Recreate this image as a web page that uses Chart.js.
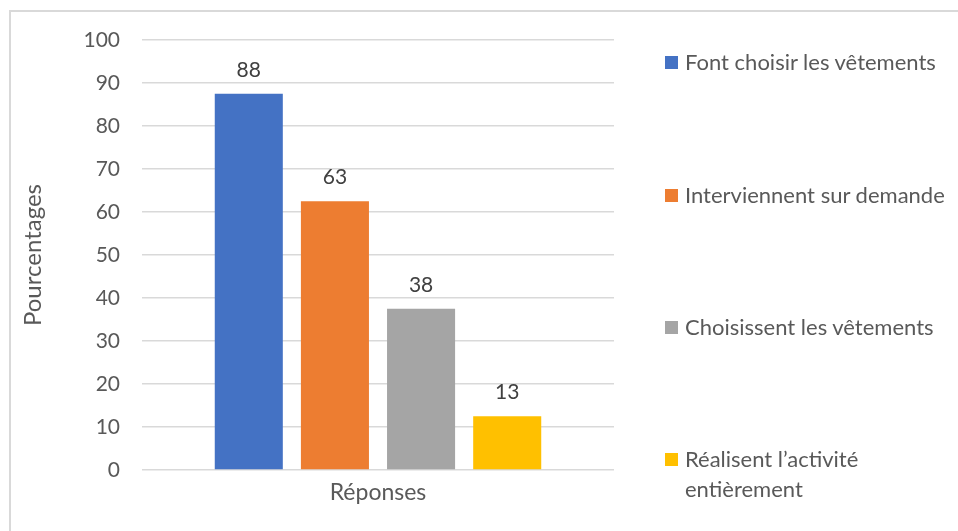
<!DOCTYPE html>
<html>
<head>
<meta charset="utf-8">
<script src="https://cdn.jsdelivr.net/npm/chart.js@4"></script>
<style>
  body { margin: 0; background: #fff; }
  #wrap { position: relative; width: 958px; height: 531px; overflow: hidden; font-family: Lato, "Open Sans", sans-serif; }
  #frame { position: absolute; left: 9px; top: 10px; right: -5px; bottom: -5px; border-left: 2px solid #d9d9d9; border-top: 2px solid #d9d9d9; }
  #chart { position: absolute; left: 0; top: 0; }
  #legend { position: absolute; left: 665px; top: 0; color: #595959; font-size: 22px; line-height: 30px; }
  .item { position: absolute; left: 0; white-space: nowrap; }
  .item span.box { position: absolute; left: 0; top: 9px; width: 13px; height: 13px; }
  .item span.txt { position: absolute; left: 20px; top: 0; }
</style>
</head>
<body>
<div id="wrap">
  <div id="frame"></div>
  <canvas id="chart" width="958" height="531"></canvas>
  <div id="legend"></div>
</div>
<script>
// Data
const categories = ["Réponses"];
const seriesNames = [
  "Font choisir les vêtements",
  "Interviennent sur demande",
  "Choisissent les vêtements",
  "Réalisent l\u2019activité entièrement"
];
const seriesValues = [87.5, 62.5, 37.5, 12.5];
const valueLabels = ["88", "63", "38", "13"];
const seriesColors = ["#4472C4", "#ED7D31", "#A5A5A5", "#FFC000"];

const textColor = "#595959";
const fontFamily = "Lato, 'Open Sans', sans-serif";

// value labels above the bars
const barLabels = {
  id: "barLabels",
  afterDatasetsDraw(chart) {
    const ctx = chart.ctx;
    ctx.save();
    ctx.fillStyle = "#404040";
    ctx.font = "21px " + fontFamily;
    ctx.textAlign = "center";
    ctx.textBaseline = "alphabetic";
    chart.data.datasets.forEach((ds, i) => {
      const bar = chart.getDatasetMeta(i).data[0];
      ctx.fillText(valueLabels[i], bar.x, bar.y - 17);
    });
    ctx.restore();
  }
};

new Chart(document.getElementById("chart"), {
  type: "bar",
  data: {
    labels: categories,
    datasets: seriesNames.map((name, i) => ({
      label: name,
      data: [seriesValues[i]],
      backgroundColor: seriesColors[i],
      categoryPercentage: 0.73,
      barPercentage: 0.79
    }))
  },
  options: {
    responsive: false,
    animation: false,
    devicePixelRatio: 1,
    layout: { padding: { left: 0, top: 40, right: 344, bottom: 0 } },
    plugins: {
      legend: { display: false },
      tooltip: { enabled: false }
    },
    scales: {
      y: {
        min: 0,
        max: 100,
        ticks: {
          stepSize: 10,
          padding: 22,
          color: textColor,
          font: { family: fontFamily, size: 21 }
        },
        grid: { color: "#d9d9d9", lineWidth: 1.5, drawTicks: false },
        border: { display: false },
        title: {
          display: true,
          text: "Pourcentages",
          color: textColor,
          font: { family: fontFamily, size: 24 },
          padding: { top: 19, bottom: 0 }
        },
        afterFit(scale) { scale.width = 142; }
      },
      x: {
        ticks: {
          padding: 9,
          color: textColor,
          font: { family: fontFamily, size: 23 }
        },
        grid: { display: false, drawTicks: false },
        border: { display: false },
        afterFit(scale) { scale.height = 61; }
      }
    }
  },
  plugins: [barLabels]
});

// HTML legend, spread down the right side like the original
const legendTops = [47, 180, 312, 444];
const legend = document.getElementById("legend");
seriesNames.forEach((name, i) => {
  const item = document.createElement("div");
  item.className = "item";
  item.style.top = legendTops[i] + "px";
  const box = document.createElement("span");
  box.className = "box";
  box.style.background = seriesColors[i];
  const txt = document.createElement("span");
  txt.className = "txt";
  if (i === 3) {
    txt.innerHTML = "Réalisent l\u2019activité<br>entièrement";
  } else {
    txt.textContent = name;
  }
  item.appendChild(box);
  item.appendChild(txt);
  legend.appendChild(item);
});
</script>
</body>
</html>
